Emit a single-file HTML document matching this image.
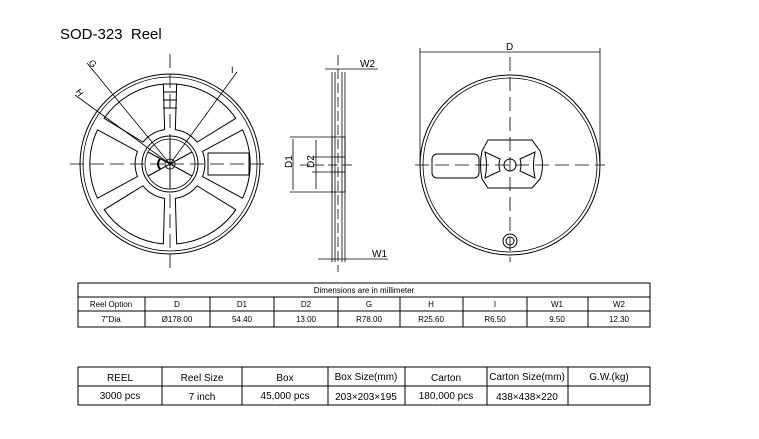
<!DOCTYPE html>
<html><head><style>
body{margin:0;width:759px;height:439px;background:#fff;overflow:hidden;font-family:"Liberation Sans",sans-serif}
svg{position:absolute;left:0;top:0}
text{font-family:"Liberation Sans",sans-serif;fill:#000}
</style></head><body>
<svg width="759" height="439" viewBox="0 0 759 439">
<defs>
<path id="win" d="M 32.5 -12.55 L 72.5 -34.2 A 80 80 0 0 1 72.5 34.2 L 32.5 12.55 A 35 35 0 0 0 32.5 -12.55 Z" fill="none" stroke="#000" stroke-width="1" stroke-linejoin="round"/>
</defs>
<text x="60" y="39" font-size="15">SOD-323&#160;&#160;Reel</text>

<!-- left reel -->
<g transform="translate(170,164)" stroke="#000" fill="none">
<circle r="90" stroke-width="1"/>
<circle r="87" stroke-width="0.8"/>
<use href="#win"/>
<use href="#win" transform="rotate(180)"/>
<use href="#win" transform="rotate(-60)"/>
<use href="#win" transform="rotate(-120)"/>
<use href="#win" transform="rotate(60)"/>
<use href="#win" transform="rotate(120)"/>
<rect x="38" y="-11" width="41" height="22" stroke-width="1"/>
<circle r="28" stroke-width="1"/>
<circle r="25" stroke-width="0.8"/>
<circle r="5" stroke-width="0.8"/>
<line x1="0" y1="-25" x2="0" y2="25"/>
<line x1="-22" y1="-12" x2="22" y2="12"/>
<line x1="-22" y1="12" x2="22" y2="-12"/>
<line x1="0" y1="0" x2="-83" y2="-101" stroke-width="0.8"/>
<line x1="0" y1="0" x2="-95" y2="-69" stroke-width="0.8"/>
<line x1="0" y1="0" x2="67" y2="-92" stroke-width="0.8"/>
<line x1="-100" y1="0" x2="100" y2="0" stroke-dasharray="14,6" stroke-width="0.8"/>
<line x1="0" y1="-110" x2="0" y2="110" stroke-dasharray="14,6" stroke-width="0.8"/>
<line x1="-7" y1="-80" x2="7" y2="-80"/><line x1="-7" y1="-72" x2="7" y2="-72"/><line x1="-7" y1="-64" x2="7" y2="-64"/><line x1="-7" y1="-56" x2="7" y2="-56"/>
<path d="M -10 -5 Q -14 0 -10 5" stroke-width="2"/>
</g>
<text x="89" y="67" font-size="9" transform="rotate(50 93 64)">G</text>
<text x="76" y="96" font-size="9" transform="rotate(55 80 93)">H</text>
<text x="231" y="73" font-size="9">I</text>

<!-- side view -->
<g stroke="#000" fill="none" stroke-width="0.8">
<line x1="332" y1="72" x2="332" y2="262"/>
<line x1="335" y1="72" x2="335" y2="262"/>
<line x1="342" y1="72" x2="342" y2="262"/>
<line x1="345" y1="72" x2="345" y2="262"/>
<line x1="338" y1="55" x2="338" y2="272" stroke-dasharray="10,4"/>
<rect x="332" y="137" width="13" height="55"/>
<rect x="332" y="157" width="13" height="15"/>
<line x1="290" y1="137" x2="332" y2="137"/>
<line x1="290" y1="192" x2="332" y2="192"/>
<line x1="293" y1="139" x2="293" y2="190"/>
<line x1="312" y1="157" x2="332" y2="157"/>
<line x1="312" y1="172" x2="332" y2="172"/>
<line x1="316" y1="140" x2="316" y2="189"/>
<line x1="300" y1="165" x2="352" y2="165" stroke-dasharray="10,4"/>
<line x1="325" y1="69" x2="378" y2="69"/>
<line x1="318" y1="259" x2="388" y2="259"/>
</g>
<text x="360" y="67" font-size="10">W2</text>
<text x="372" y="257" font-size="10">W1</text>
<text x="290" y="170" font-size="10" transform="rotate(-90 290 168)">D1</text>
<text x="312" y="170" font-size="10" transform="rotate(-90 312 168)">D2</text>

<!-- right reel -->
<g transform="translate(510,165)" stroke="#000" fill="none">
<circle r="90"/>
<circle r="87" stroke-width="0.8"/>
<path d="M -22 -25 L 22 -25 L 30 -14 Q 35 0 30 14 L 22 23 L -22 23 L -28 14 Q -31 0 -28 -14 Z"/>
<rect x="-78" y="-11" width="47" height="24" rx="5"/>
<path d="M -25 -13 L -10 -6 Q -12 0 -10 6 L -25 13 Q -22 0 -25 -13 Z"/>
<path d="M 25 -13 L 10 -6 Q 12 0 10 6 L 25 13 Q 22 0 25 -13 Z"/>
<circle r="6"/>
<circle cx="0" cy="76" r="7"/>
<circle cx="0" cy="76" r="4"/>
<line x1="-95" y1="0" x2="95" y2="0" stroke-dasharray="14,6" stroke-width="0.8"/>
<line x1="0" y1="-108" x2="0" y2="97" stroke-dasharray="14,6" stroke-width="0.8"/>
</g>
<g stroke="#000" stroke-width="0.8">
<line x1="420" y1="52" x2="600" y2="52"/>
<line x1="420" y1="48" x2="420" y2="165"/>
<line x1="600" y1="48" x2="600" y2="165"/>
</g>
<text x="506" y="50" font-size="10">D</text>

<!-- table 1 -->
<g stroke="#000" stroke-width="1" fill="none">
<rect x="78" y="283" width="572" height="44"/>
<line x1="78" y1="297" x2="650" y2="297"/>
<line x1="78" y1="311" x2="650" y2="311"/>
<line x1="145" y1="297" x2="145" y2="327"/><line x1="210" y1="297" x2="210" y2="327"/>
<line x1="274" y1="297" x2="274" y2="327"/><line x1="338" y1="297" x2="338" y2="327"/>
<line x1="400" y1="297" x2="400" y2="327"/><line x1="463" y1="297" x2="463" y2="327"/>
<line x1="527" y1="297" x2="527" y2="327"/><line x1="588" y1="297" x2="588" y2="327"/>
</g>
<g font-size="8" text-anchor="middle">
<text x="364" y="293">Dimensions are in millimeter</text>
<text x="111" y="307">Reel Option</text><text x="177" y="307">D</text><text x="242" y="307">D1</text><text x="306" y="307">D2</text><text x="369" y="307">G</text><text x="431" y="307">H</text><text x="495" y="307">I</text><text x="557" y="307">W1</text><text x="619" y="307">W2</text>
<text x="111" y="322">7"Dia</text><text x="177" y="322">Ø178.00</text><text x="242" y="322">54.40</text><text x="306" y="322">13.00</text><text x="369" y="322">R78.00</text><text x="431" y="322">R25.60</text><text x="495" y="322">R6.50</text><text x="557" y="322">9.50</text><text x="619" y="322">12.30</text>
</g>

<!-- table 2 -->
<g stroke="#000" stroke-width="1" fill="none">
<rect x="78" y="367" width="572" height="38"/>
<line x1="78" y1="386" x2="650" y2="386"/>
<line x1="162" y1="367" x2="162" y2="405"/><line x1="242" y1="367" x2="242" y2="405"/>
<line x1="328" y1="367" x2="328" y2="405"/><line x1="405" y1="367" x2="405" y2="405"/>
<line x1="487" y1="367" x2="487" y2="405"/><line x1="568" y1="367" x2="568" y2="405"/>
</g>
<g font-size="10" text-anchor="middle">
<text x="120" y="381">REEL</text><text x="202" y="381">Reel Size</text><text x="285" y="381">Box</text><text x="366" y="380">Box Size(mm)</text><text x="446" y="381">Carton</text><text x="527" y="380">Carton Size(mm)</text><text x="609" y="380">G.W.(kg)</text>
<text x="120" y="399">3000 pcs</text><text x="202" y="400">7 inch</text><text x="285" y="399">45,000 pcs</text><text x="366" y="400">203×203×195</text><text x="446" y="399">180,000 pcs</text><text x="527" y="400">438×438×220</text>
</g>
</svg>
</body></html>
